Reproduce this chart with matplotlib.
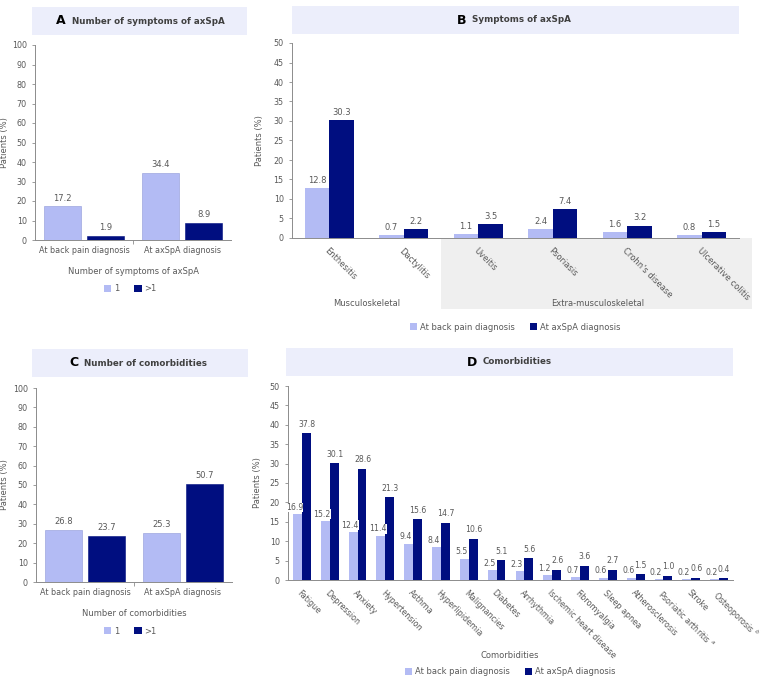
import numpy as np
import matplotlib
matplotlib.use("Agg")
import matplotlib.pyplot as plt
from matplotlib.patches import Rectangle, Patch

W, H = 765, 683
LIGHT = "#B3BBF4"
DARK = "#000E80"
GRAY = "#595959"
BOX = "#ECEEFB"

# panel A / C data
groups = ["At back pain diagnosis", "At axSpA diagnosis"]
sym_one = [17.2, 34.4]
sym_more = [1.9, 8.9]
com_one = [26.8, 25.3]
com_more = [23.7, 50.7]

# panel B data
symptoms = ["Enthesitis", "Dactylitis", "Uveitis", "Psoriasis", "Crohn's disease", "Ulcerative colitis"]
sym_back = [12.8, 0.7, 1.1, 2.4, 1.6, 0.8]
sym_axspa = [30.3, 2.2, 3.5, 7.4, 3.2, 1.5]

# panel D data
comorbid = ["Fatigue", "Depression", "Anxiety", "Hypertension", "Asthma", "Hyperlipidemia",
            "Malignancies", "Diabetes", "Arrhythmia", "Ischemic heart disease", "Fibromyalgia",
            "Sleep apnea", "Atherosclerosis", r"Psoriatic arthritis $^{a}$", "Stroke", r"Osteoporosis $^{b}$"]
com_back = [16.9, 15.2, 12.4, 11.4, 9.4, 8.4, 5.5, 2.5, 2.3, 1.2, 0.7, 0.6, 0.6, 0.2, 0.2, 0.2]
com_axspa = [37.8, 30.1, 28.6, 21.3, 15.6, 14.7, 10.6, 5.1, 5.6, 2.6, 3.6, 2.7, 1.5, 1.0, 0.6, 0.4]

plt.rcParams["font.family"] = "DejaVu Sans"
plt.rcParams["font.size"] = 5.5

fig = plt.figure(figsize=(W / 100, H / 100), dpi=100)


def fx(px):
    return px / W


def fy(py):
    return 1 - py / H


def make_ax(l, t, r, b):
    ax = fig.add_axes([fx(l), fy(b), (r - l) / W, (b - t) / H])
    for s in ["top", "right"]:
        ax.spines[s].set_visible(False)
    for s in ["left", "bottom"]:
        ax.spines[s].set_color("#8C8C8C")
        ax.spines[s].set_linewidth(0.7)
    ax.tick_params(colors="#8C8C8C", labelcolor=GRAY, labelsize=5.8, length=2.5, width=0.6)
    ax.set_ylabel("Patients (%)", color=GRAY, fontsize=6)
    return ax


def title_box(l, t, r, b, letter, text, split):
    fig.patches.append(Rectangle((fx(l), fy(b)), (r - l) / W, (b - t) / H,
                                 transform=fig.transFigure, facecolor=BOX, edgecolor="none"))
    yc = fy((t + b) / 2)
    fig.text(fx(split - 4), yc, letter, ha="right", va="center", fontsize=9,
             fontweight="bold", color="black")
    fig.text(fx(split + 2), yc, text, ha="left", va="center", fontsize=6.3,
             fontweight="bold", color="#404040")


def ylabel_at(ax, l, r, px):
    ax.yaxis.set_label_coords((px - l) / (r - l), 0.5)


def legend_at(ax, labels, cx, cy):
    handles = [Patch(facecolor=LIGHT, edgecolor="none"), Patch(facecolor=DARK, edgecolor="none")]
    leg = ax.legend(handles, labels, loc="center", bbox_to_anchor=(fx(cx), fy(cy)),
                    bbox_transform=fig.transFigure, ncol=2, frameon=False, fontsize=6,
                    handlelength=0.9, handleheight=0.9, handletextpad=0.3, columnspacing=1.8)
    for t in leg.get_texts():
        t.set_color(GRAY)


def small_panel(l, t, r, b, one, more, xlabel, xlab_y, leg_y):
    ax = make_ax(l, t, r, b)
    x = np.arange(len(groups))
    ax.bar(x - 0.22, one, 0.37, color=LIGHT, edgecolor="#8F99D8", linewidth=0.4)
    ax.bar(x + 0.22, more, 0.37, color=DARK, edgecolor=DARK, linewidth=0.4)
    for xi, v in zip(x, one):
        ax.text(xi - 0.22, v + 2, f"{v}", ha="center", va="bottom", color=GRAY, fontsize=6)
    for xi, v in zip(x, more):
        ax.text(xi + 0.22, v + 2, f"{v}", ha="center", va="bottom", color=GRAY, fontsize=6)
    ax.set_xlim(-0.5, 1.5)
    ax.set_ylim(0, 100)
    ax.set_yticks(np.arange(0, 101, 10))
    ax.set_xticks(x)
    ax.set_xticklabels(groups)
    ax.tick_params(axis="x", length=0, pad=4)
    ax.set_xticks([0.5], minor=True)
    ax.tick_params(axis="x", which="minor", length=3, colors="#8C8C8C")
    ylabel_at(ax, l, r, 9)
    fig.text(fx((l + r) / 2), fy(xlab_y), xlabel, ha="center", va="center", color=GRAY, fontsize=6)
    legend_at(ax, ["1", ">1"], 130, leg_y)
    return ax


# ---- A ----
title_box(32, 7, 247, 35, "A", "Number of symptoms of axSpA", 70)
small_panel(35, 45, 231, 240, sym_one, sym_more, "Number of symptoms of axSpA", 271, 289)

# ---- C ----
title_box(32, 349, 248, 377, "C", "Number of comorbidities", 82)
small_panel(36, 388, 232, 582, com_one, com_more, "Number of comorbidities", 613, 631)

# ---- B ----
title_box(292, 6, 739, 34, "B", "Symptoms of axSpA", 470)
fig.patches.append(Rectangle((fx(441), fy(309)), (752 - 441) / W, (309 - 238) / H,
                             transform=fig.transFigure, facecolor="#EFEFEF", edgecolor="none", zorder=-10))
axb = make_ax(292, 43, 739, 238)
axb.patch.set_alpha(0)
xb = np.arange(len(symptoms))
axb.bar(xb - 0.165, sym_back, 0.33, color=LIGHT, edgecolor="none")
axb.bar(xb + 0.165, sym_axspa, 0.33, color=DARK, edgecolor="none")
for xi, v in zip(xb, sym_back):
    axb.text(xi - 0.165, v + 0.8, f"{v}", ha="center", va="bottom", color=GRAY, fontsize=6)
for xi, v in zip(xb, sym_axspa):
    axb.text(xi + 0.165, v + 0.8, f"{v}", ha="center", va="bottom", color=GRAY, fontsize=6)
axb.set_xlim(-0.5, 5.5)
axb.set_ylim(0, 50)
axb.set_yticks(np.arange(0, 51, 5))
axb.set_xticks(xb)
axb.set_xticklabels(symptoms, rotation=-45, ha="left", va="top", rotation_mode="anchor", fontsize=6)
axb.tick_params(axis="x", length=0, pad=6)
ylabel_at(axb, 292, 739, 264)
fig.text(fx(367), fy(304), "Musculoskeletal", ha="center", va="center", color=GRAY, fontsize=6)
fig.text(fx(598), fy(304), "Extra-musculoskeletal", ha="center", va="center", color=GRAY, fontsize=6)
legend_at(axb, ["At back pain diagnosis", "At axSpA diagnosis"], 515, 327)

# ---- D ----
title_box(286, 348, 733, 376, "D", "Comorbidities", 481)
axd = make_ax(288, 386, 733, 580)
xd = np.arange(len(comorbid))
axd.bar(xd - 0.16, com_back, 0.32, color=LIGHT, edgecolor="none")
axd.bar(xd + 0.16, com_axspa, 0.32, color=DARK, edgecolor="none")
for xi, v in zip(xd, com_back):
    axd.text(xi - 0.27, v + 0.6, f"{v}", ha="center", va="bottom", color=GRAY, fontsize=5.6,
             bbox=dict(facecolor="white", edgecolor="none", pad=0.2))
for xi, v in zip(xd, com_axspa):
    axd.text(xi + 0.18, v + 1.2, f"{v}", ha="center", va="bottom", color=GRAY, fontsize=5.6)
axd.set_xlim(-0.5, 15.5)
axd.set_ylim(0, 50)
axd.set_yticks(np.arange(0, 51, 5))
axd.set_xticks(xd)
axd.set_xticklabels(comorbid, rotation=-45, ha="left", va="top", rotation_mode="anchor", fontsize=5.8)
axd.tick_params(axis="x", length=0, pad=6)
ylabel_at(axd, 288, 733, 262)
fig.text(fx(510), fy(655), "Comorbidities", ha="center", va="center", color=GRAY, fontsize=6)
legend_at(axd, ["At back pain diagnosis", "At axSpA diagnosis"], 510, 672)

fig.savefig("out.png", dpi=100, facecolor="white")
